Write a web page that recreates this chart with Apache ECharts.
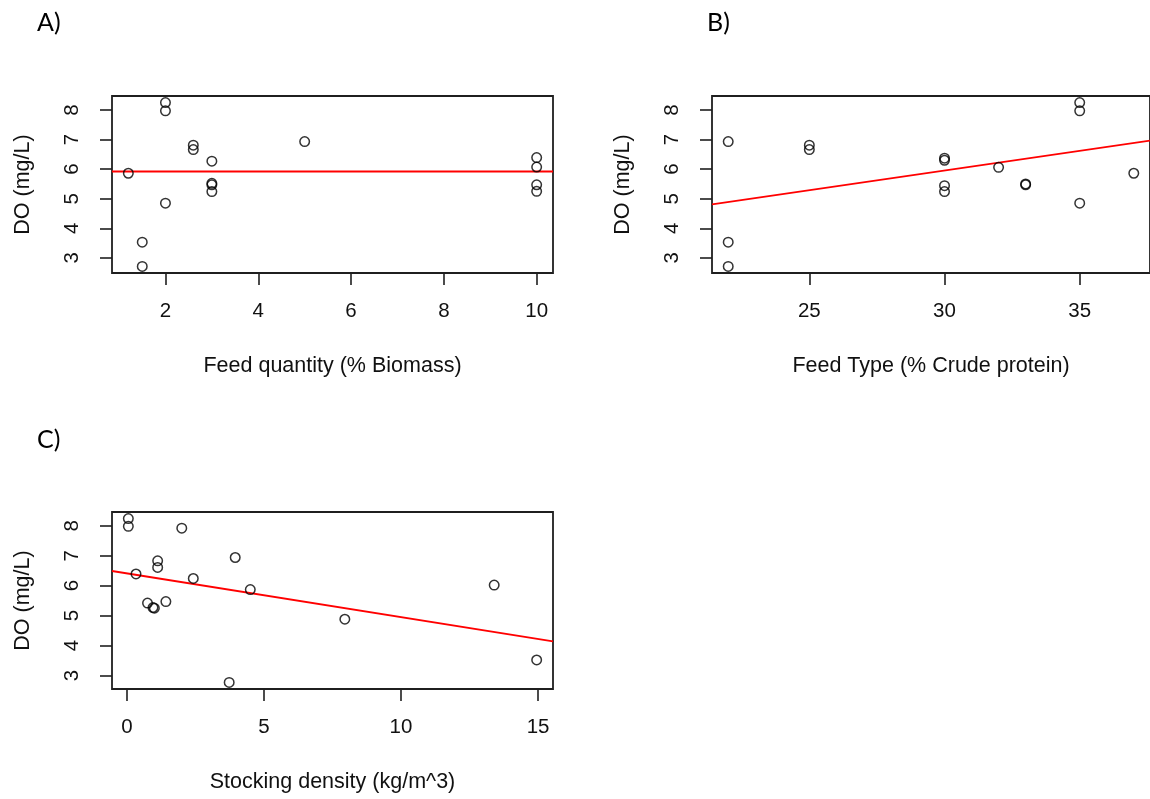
<!DOCTYPE html>
<html>
<head>
<meta charset="utf-8">
<script src="https://cdn.jsdelivr.net/npm/echarts@6/dist/echarts.min.js"></script>
<style>
  html, body { margin: 0; padding: 0; background: #ffffff; }
  #chart { width: 1150px; height: 799px; }
</style>
</head>
<body>
<div id="chart"></div>
<script>
// Panel A: DO against feed quantity
const feedQty   = [1.2, 2, 2, 2, 1.5, 1.5, 2.6, 2.6, 3, 3, 3, 3, 5, 10, 10, 10, 10];
const doFeedQty = [5.86, 8.25, 7.97, 4.85, 3.53, 2.71, 6.81, 6.66, 6.27, 5.52, 5.47, 5.24, 6.93, 6.39, 6.07, 5.47, 5.25];

// Panel B: DO against feed type
const feedType   = [22, 22, 22, 25, 25, 30, 30, 30, 30, 32, 33, 33, 35, 35, 35, 37];
const doFeedType = [6.93, 3.53, 2.71, 6.81, 6.66, 6.37, 6.30, 5.44, 5.24, 6.06, 5.50, 5.47, 8.25, 7.97, 4.85, 5.86];

// Panel C: DO against stocking density
const stocking   = [0.05, 0.05, 2.0, 3.95, 1.12, 1.12, 0.33, 2.42, 4.5, 0.75, 0.95, 1.0, 1.42, 3.73, 7.95, 13.4, 14.95];
const doStocking = [8.24, 7.98, 7.92, 6.94, 6.83, 6.61, 6.39, 6.24, 5.87, 5.42, 5.27, 5.25, 5.47, 2.77, 4.88, 6.02, 3.52];

// Fitted lines: [intercept, slope]
const fitA = [5.92, 0.0];
const fitB = [1.96, 0.133];
const fitC = [6.41, -0.146];

// Tick labels
const ticksA = [2, 4, 6, 8, 10];
const ticksB = [25, 30, 35];
const ticksC = [0, 5, 10, 15];
const ticksDO = [3, 4, 5, 6, 7, 8];

const axisTitles = ['Feed quantity (% Biomass)', 'Feed Type (% Crude protein)', 'Stocking density (kg/m^3)'];
const yTitle = 'DO (mg/L)';
const panelLetters = ['A)', 'B)', 'C)'];

// R-style axis extent: data range padded by 4% each side
function padRange(v) {
  const lo = Math.min(...v), hi = Math.max(...v), r = hi - lo;
  return [lo - 0.04 * r, hi + 0.04 * r];
}

const panels = [
  { x: feedQty,  y: doFeedQty,  fit: fitA, ticks: ticksA, grid: { left: 112, top: 96, width: 441, height: 177 } },
  { x: feedType, y: doFeedType, fit: fitB, ticks: ticksB, grid: { left: 712, top: 96, width: 446, height: 177 } },
  { x: stocking, y: doStocking, fit: fitC, ticks: ticksC, grid: { left: 112, top: 512, width: 441, height: 177 } }
];

const FONT = 'Liberation Sans, Arial, sans-serif';
const INK = '#111111';
const TICK_FONT = 20.5;
const TITLE_FONT = 21.5;

const grids = [], xAxes = [], yAxes = [], series = [];
panels.forEach((p, i) => {
  const xr = padRange(p.x), yr = padRange(p.y);
  grids.push(Object.assign({ show: true, borderColor: '#1f1f1f', borderWidth: 1.8, backgroundColor: 'transparent' }, p.grid));
  xAxes.push({
    type: 'value', gridIndex: i, min: xr[0], max: xr[1],
    splitLine: { show: false }, axisLine: { show: false, onZero: false },
    axisTick: { show: true, inside: false, length: 12, customValues: p.ticks, lineStyle: { color: '#1f1f1f', width: 1.6 } },
    axisLabel: { customValues: p.ticks, margin: 28, color: INK, fontFamily: FONT, fontSize: TICK_FONT },
    name: axisTitles[i], nameLocation: 'middle', nameGap: 82,
    nameTextStyle: { color: INK, fontFamily: FONT, fontSize: TITLE_FONT }
  });
  yAxes.push({
    type: 'value', gridIndex: i, min: yr[0], max: yr[1],
    splitLine: { show: false }, axisLine: { show: false, onZero: false },
    axisTick: { show: true, inside: false, length: 12, customValues: ticksDO, lineStyle: { color: '#1f1f1f', width: 1.6 } },
    axisLabel: { customValues: ticksDO, rotate: 90, margin: 29, color: INK, fontFamily: FONT, fontSize: TICK_FONT },
    name: yTitle, nameLocation: 'middle', nameGap: 78, nameRotate: 90,
    nameTextStyle: { color: INK, fontFamily: FONT, fontSize: TITLE_FONT }
  });
  series.push({
    type: 'scatter', xAxisIndex: i, yAxisIndex: i,
    data: p.x.map((v, k) => [v, p.y[k]]),
    symbol: 'circle', symbolSize: 9.5,
    itemStyle: { color: 'rgba(0,0,0,0)', borderColor: '#000', borderWidth: 1.5 },
    emphasis: { disabled: true }, silent: true, z: 3
  });
  series.push({
    type: 'line', xAxisIndex: i, yAxisIndex: i,
    data: xr.map(v => [v, p.fit[0] + p.fit[1] * v]),
    showSymbol: false, clip: true,
    lineStyle: { color: '#ff0000', width: 1.8 },
    emphasis: { disabled: true }, silent: true, z: 2
  });
});

const titles = [
  { text: panelLetters[0], left: 37, top: 10 },
  { text: panelLetters[1], left: 707, top: 10 },
  { text: panelLetters[2], left: 37, top: 427 }
].map(t => Object.assign(t, { padding: 0, textStyle: { fontFamily: 'Lato, Open Sans, sans-serif', fontSize: 25, fontWeight: 'normal', color: '#000' } }));

const chart = echarts.init(document.getElementById('chart'), null, { renderer: 'canvas' });
chart.setOption({
  animation: false,
  backgroundColor: '#ffffff',
  title: titles,
  grid: grids,
  xAxis: xAxes,
  yAxis: yAxes,
  series: series
});
</script>
</body>
</html>
